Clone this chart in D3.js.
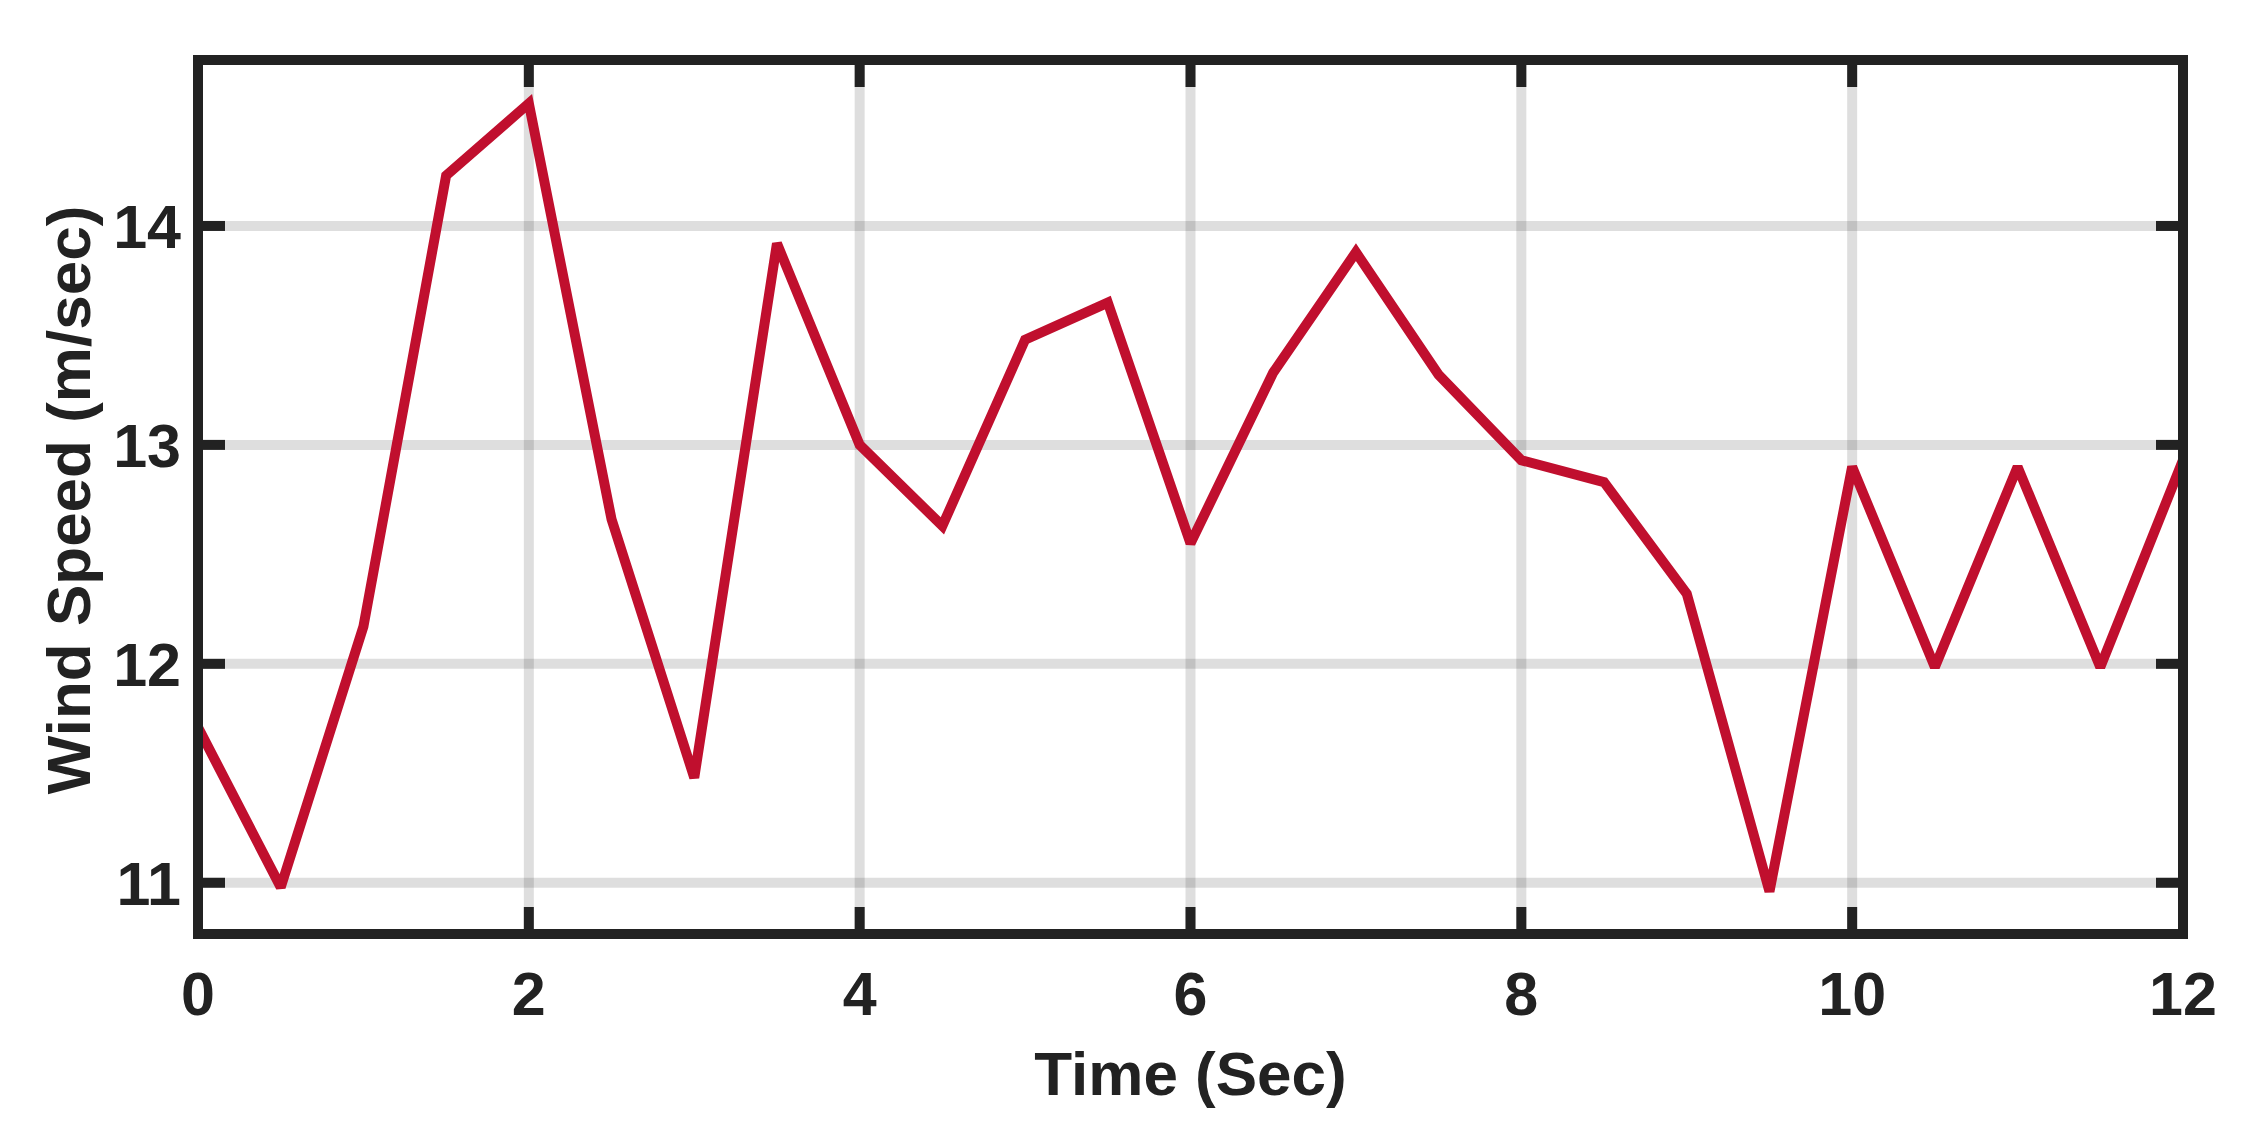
<!DOCTYPE html>
<html>
<head>
<meta charset="utf-8">
<script src="https://cdn.jsdelivr.net/npm/d3@7"></script>
<style>
  body { margin: 0; background: #fff; }
  text { font-family: "Liberation Sans", Arial, sans-serif; font-weight: bold; fill: #222; }
</style>
</head>
<body>
<div id="chart-area"></div>
<script>
// data
var time = [0, 0.5, 1, 1.5, 2, 2.5, 3, 3.5, 4, 4.5, 5, 5.5, 6, 6.5, 7, 7.5, 8, 8.5, 9, 9.5, 10, 10.5, 11, 11.5, 12];
var speed = [11.71, 10.98, 12.17, 14.23, 14.56, 12.66, 11.48, 13.92, 13.00, 12.63, 13.48, 13.65, 12.55, 13.33, 13.88, 13.32, 12.93, 12.83, 12.32, 10.96, 12.90, 11.985, 12.90, 11.985, 12.93];
var xTicks = [0, 2, 4, 6, 8, 10, 12];
var yTicks = [11, 12, 13, 14];
var xLabel = "Time (Sec)";
var yLabel = "Wind Speed (m/sec)";

var W = 2261, H = 1134;
var margin = {top: 60, right: 78, bottom: 200, left: 198};
var width = W - margin.left - margin.right;
var height = H - margin.top - margin.bottom;

var svg = d3.select("#chart-area").append("svg")
  .attr("width", W)
  .attr("height", H);

var g = svg.append("g")
  .attr("transform", "translate(" + margin.left + "," + margin.top + ")");

var xscale = d3.scaleLinear().domain([0, 12]).range([0, width]);
var yscale = d3.scaleLinear().domain([10.766, 14.758]).range([height, 0]);

// grid
g.selectAll(".vgrid").data(xTicks.slice(1, -1)).enter()
  .append("line")
  .attr("x1", function(d){ return xscale(d); })
  .attr("x2", function(d){ return xscale(d); })
  .attr("y1", 0).attr("y2", height)
  .attr("stroke", "#000").attr("stroke-opacity", 0.13).attr("stroke-width", 10);

g.selectAll(".hgrid").data(yTicks).enter()
  .append("line")
  .attr("x1", 0).attr("x2", width)
  .attr("y1", function(d){ return yscale(d); })
  .attr("y2", function(d){ return yscale(d); })
  .attr("stroke", "#000").attr("stroke-opacity", 0.13).attr("stroke-width", 10);

// ticks on all four sides, pointing inward
var tl = 27;
var tickG = g.append("g").attr("stroke", "#222").attr("stroke-width", 10);
xTicks.forEach(function(d){
  tickG.append("line").attr("x1", xscale(d)).attr("x2", xscale(d)).attr("y1", height).attr("y2", height - tl);
  tickG.append("line").attr("x1", xscale(d)).attr("x2", xscale(d)).attr("y1", 0).attr("y2", tl);
});
yTicks.forEach(function(d){
  tickG.append("line").attr("x1", 0).attr("x2", tl).attr("y1", yscale(d)).attr("y2", yscale(d));
  tickG.append("line").attr("x1", width).attr("x2", width - tl).attr("y1", yscale(d)).attr("y2", yscale(d));
});

// the series
var line = d3.line()
  .x(function(d, i){ return xscale(time[i]); })
  .y(function(d){ return yscale(d); });

g.append("path")
  .datum(speed)
  .attr("d", line)
  .attr("fill", "none")
  .attr("stroke", "#c00f2e")
  .attr("stroke-width", 10)
  .attr("stroke-linejoin", "miter")
  .attr("stroke-miterlimit", 2);

// frame
g.append("rect")
  .attr("x", 0).attr("y", 0)
  .attr("width", width).attr("height", height)
  .attr("fill", "none")
  .attr("stroke", "#222")
  .attr("stroke-width", 10)
  .attr("stroke-linejoin", "miter");

// tick labels
g.selectAll(".xlab").data(xTicks).enter()
  .append("text")
  .attr("x", function(d){ return xscale(d); })
  .attr("y", height + 81)
  .attr("text-anchor", "middle")
  .attr("font-size", 61)
  .text(function(d){ return d; });

g.selectAll(".ylab").data(yTicks).enter()
  .append("text")
  .attr("x", -17)
  .attr("y", function(d){ return yscale(d) + 22; })
  .attr("text-anchor", "end")
  .attr("font-size", 61)
  .text(function(d){ return d; });

// axis titles
g.append("text")
  .attr("x", width / 2)
  .attr("y", height + 161)
  .attr("text-anchor", "middle")
  .attr("font-size", 62)
  .text(xLabel);

g.append("text")
  .attr("transform", "translate(" + (90 - margin.left) + "," + (500 - margin.top) + ") rotate(-90)")
  .attr("text-anchor", "middle")
  .attr("font-size", 62)
  .text(yLabel);
</script>
</body>
</html>
